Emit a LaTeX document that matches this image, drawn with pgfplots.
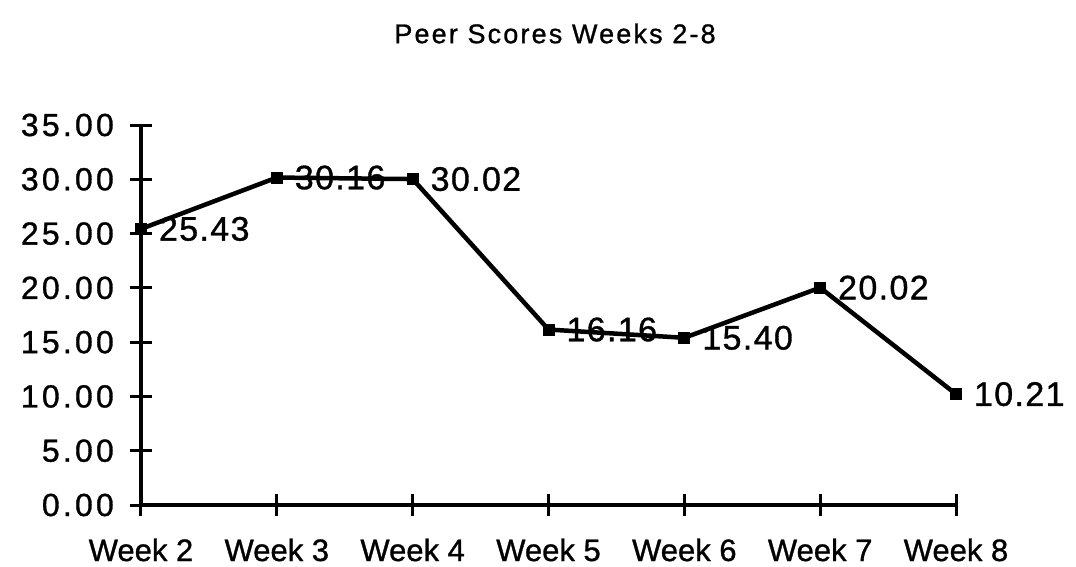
\documentclass[border=0pt]{standalone}
\usepackage{pgfplots}
\pgfplotsset{compat=1.18}
\usepackage{pgfplotstable}
\usepackage{fontspec}
\setmainfont{Liberation Sans}[FakeBold=1]
\newfontfamily\weekfont[FakeBold=1]{Liberation Sans}
\newfontfamily\titlefont[LetterSpace=8,FakeBold=1]{Liberation Sans}
\newfontfamily\tickfont[LetterSpace=10,FakeBold=1]{Liberation Sans}
\newfontfamily\datafont[LetterSpace=4,FakeBold=1]{Liberation Sans}
\pgfplotstableread{
x y lbl
0 25.43 25.43
1 30.16 30.16
2 30.02 30.02
3 16.16 16.16
4 15.40 15.40
5 20.02 20.02
6 10.21 10.21
}\peerdata
\begin{document}
\begin{tikzpicture}
\useasboundingbox (0,0) rectangle (1076pt,-567pt);
\begin{axis}[
  at={(141pt,-505pt)}, anchor=south west,
  scale only axis, width=815pt, height=380pt,
  xmin=0, xmax=6, ymin=0, ymax=35,
  clip=false,
  axis x line=bottom, axis y line=left,
  axis line style={line width=3.5pt,-},
  xtick={0,1,2,3,4,5,6},
  xticklabels={Week 2,Week 3,Week 4,Week 5,Week 6,Week 7,Week 8},
  ytick={0,5,10,15,20,25,30,35},
  yticklabels={0.00,5.00,10.00,15.00,20.00,25.00,30.00,35.00},
  tick align=center, major tick length=22pt,
  tick style={line width=3pt,black},
  yticklabel style={font=\fontsize{32}{36}\tickfont, anchor=east, inner sep=0pt, xshift=-16pt},
  xticklabel style={font=\fontsize{31}{36}\weekfont, anchor=base, inner sep=0pt, yshift=-45pt},
  title={Peer Scores Weeks 2-8},
  title style={at={(0.508,1.225)}, anchor=center, font=\fontsize{27}{32}\titlefont},
]
\addplot[black, line width=4.5pt, mark=square*, mark size=5.5pt,
  mark options={solid, line width=0pt},
  nodes near coords, point meta=explicit symbolic,
  nodes near coords align=horizontal,
  every node near coord/.append style={anchor=west, inner sep=0pt, xshift=18pt, font=\fontsize{34}{40}\datafont, black}]
  table[x=x, y=y, meta=lbl]{\peerdata};
\end{axis}
\end{tikzpicture}
\end{document}
